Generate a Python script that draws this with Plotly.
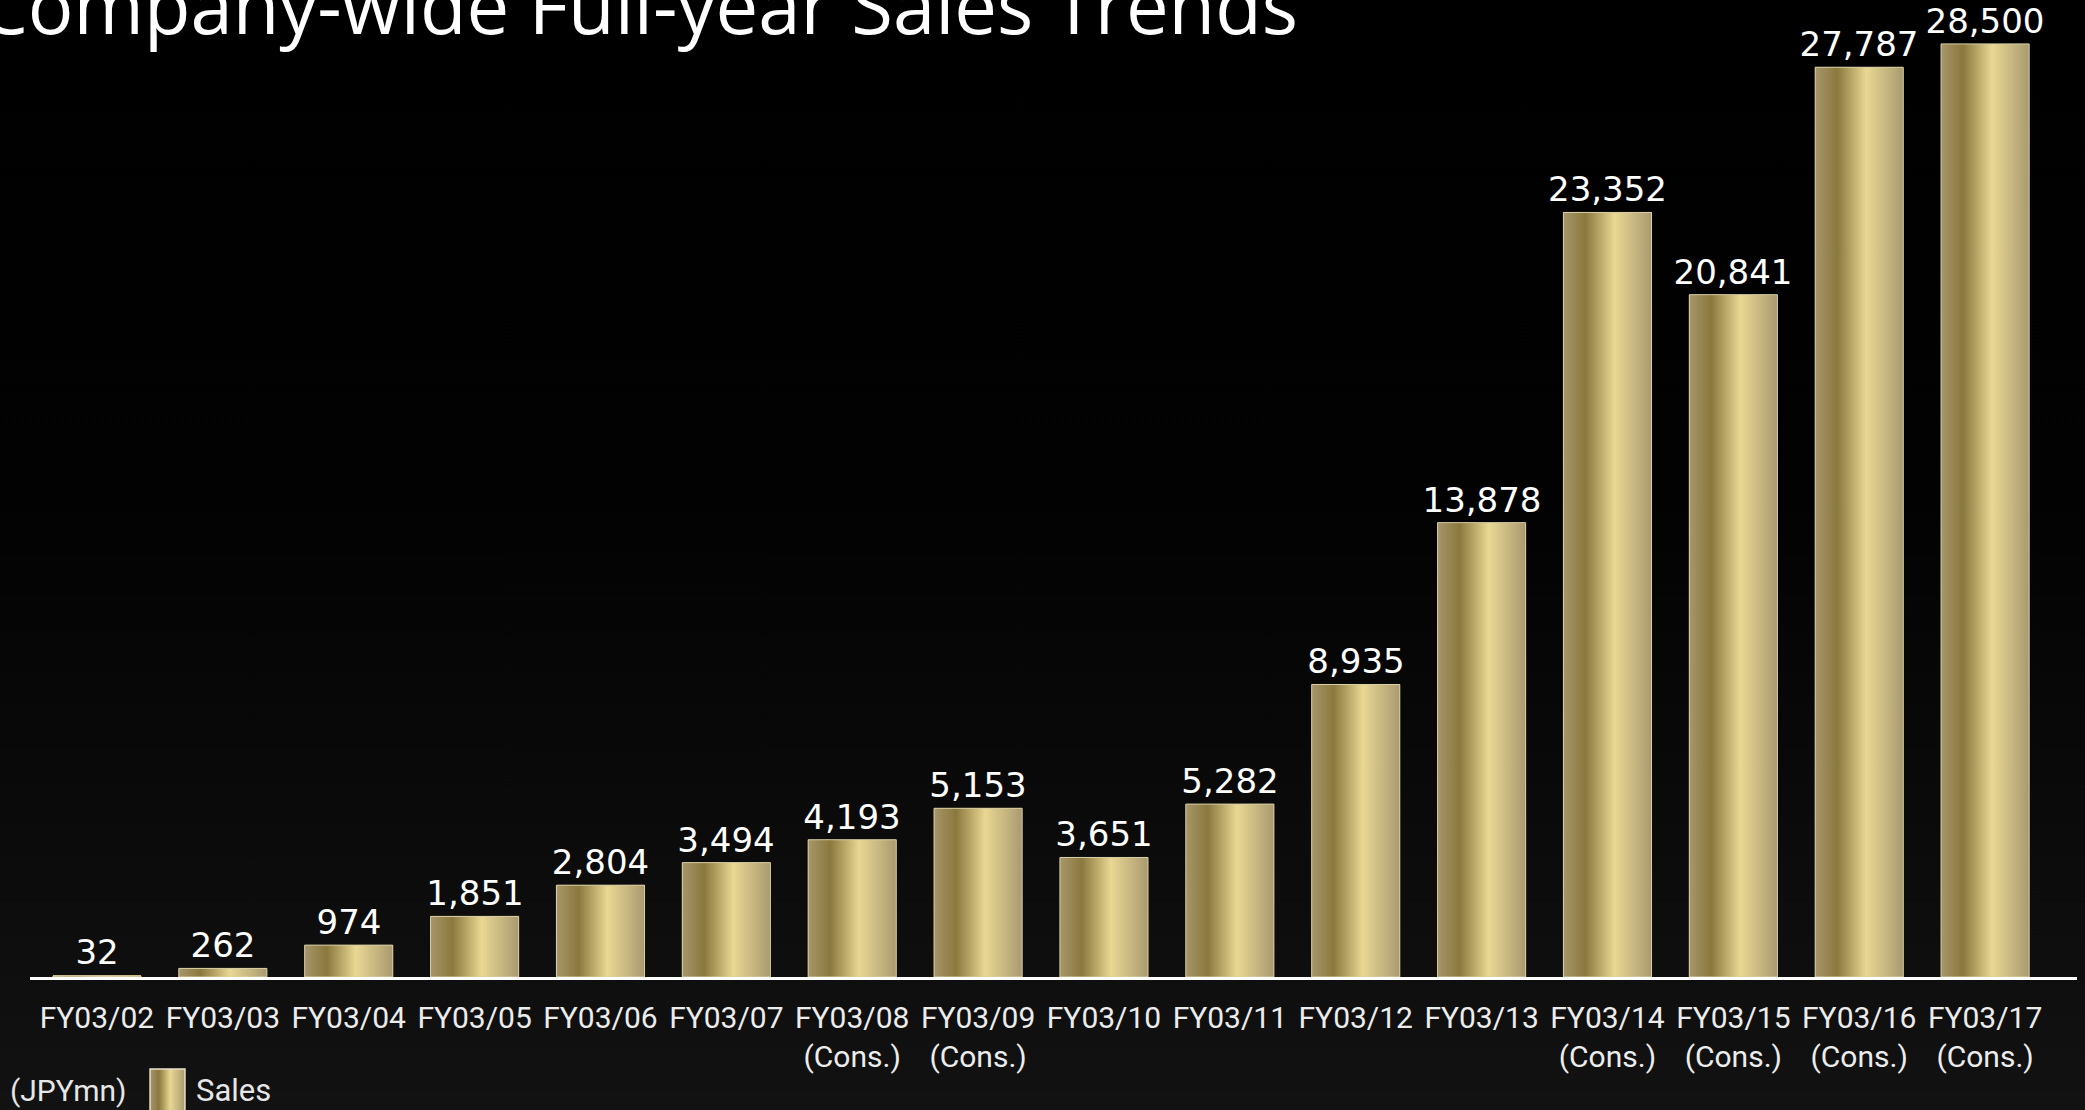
import plotly.graph_objects as go

# ---- data -------------------------------------------------------------
fiscal_years = ["FY03/02", "FY03/03", "FY03/04", "FY03/05", "FY03/06", "FY03/07",
                "FY03/08", "FY03/09", "FY03/10", "FY03/11", "FY03/12", "FY03/13",
                "FY03/14", "FY03/15", "FY03/16", "FY03/17"]
basis_notes = ["", "", "", "", "", "", "(Cons.)", "(Cons.)", "", "", "", "",
               "(Cons.)", "(Cons.)", "(Cons.)", "(Cons.)"]
sales = [32, 262, 974, 1851, 2804, 3494, 4193, 5153, 3651, 5282, 8935,
         13878, 23352, 20841, 27787, 28500]

# ---- page geometry (pixels) --------------------------------------------
W, H = 2085, 1110
PLOT_L, PLOT_R = 30, 2077      # x-axis line extent
PLOT_T, PLOT_B = 20, 977       # top of plotting area, baseline
X_RANGE = [-0.532, 15.73]
Y_MAX = 29230
BAR_W = 0.70

GOLD_SCALE = [[0.0, "#a6966a"], [0.25, "#8a783e"], [0.58, "#e9d793"], [1.0, "#a99a70"]]
GOLD_EDGE = "#d8cea4"

tick_text = [fy + ("<br>" + note if note else "") for fy, note in zip(fiscal_years, basis_notes)]
xs = list(range(len(fiscal_years)))

fig = go.Figure()

# backdrop: black fading to dark grey towards the bottom
fig.add_trace(go.Scatter(
    x=[0, 1, 1, 0, 0], y=[0, 0, 1, 1, 0], mode="lines", fill="toself",
    line=dict(width=0), fillcolor="#050505",
    fillgradient=dict(type="vertical",
                      colorscale=[[0.0, "#121212"], [0.55, "#020202"], [1.0, "#000000"]]),
    hoverinfo="skip", showlegend=False, xaxis="x", yaxis="y"))

# sales bars (carry the value labels)
fig.add_trace(go.Bar(
    x=xs, y=sales, width=BAR_W, name="Sales",
    marker=dict(color="#bba972", line=dict(width=0)),
    texttemplate="%{y:,.0f}", textposition="outside", constraintext="none",
    cliponaxis=False,
    textfont=dict(family="DejaVu Sans", size=34, color="#ffffff"),
    showlegend=False, xaxis="x2", yaxis="y2"))

# metallic gradient face of every bar, built from the same values
for xi, v in zip(xs, sales):
    x0, x1 = xi - BAR_W / 2, xi + BAR_W / 2
    fig.add_trace(go.Scatter(
        x=[x0, x1, x1, x0, x0], y=[0, 0, v, v, 0], mode="lines", fill="toself",
        line=dict(color=GOLD_EDGE, width=1), fillcolor="#bba972",
        fillgradient=dict(type="horizontal", colorscale=GOLD_SCALE),
        hoverinfo="skip", showlegend=False, xaxis="x2", yaxis="y2"))

# legend key swatch
fig.add_trace(go.Scatter(
    x=[0, 1, 1, 0, 0], y=[0, 0, 1, 1, 0], mode="lines", fill="toself",
    line=dict(color="#e8e2c8", width=1.5), fillcolor="#bba972",
    fillgradient=dict(type="horizontal", colorscale=GOLD_SCALE),
    hoverinfo="skip", showlegend=False, xaxis="x3", yaxis="y3"))

hidden = dict(visible=False, fixedrange=True)
fig.update_layout(
    width=W, height=H,
    margin=dict(l=0, r=0, t=0, b=0, pad=0),
    paper_bgcolor="#000000", plot_bgcolor="rgba(0,0,0,0)",
    showlegend=False,
    xaxis=dict(domain=[0, 1], range=[0, 1], **hidden),
    yaxis=dict(domain=[0, 1], range=[0, 1], **hidden),
    xaxis2=dict(domain=[PLOT_L / W, PLOT_R / W], range=X_RANGE, anchor="y2",
                tickvals=xs, ticktext=tick_text, ticks="", ticklabelstandoff=12,
                showgrid=False, zeroline=False, showline=True,
                linecolor="#ffffff", linewidth=3, fixedrange=True,
                tickfont=dict(family="Roboto", size=30, color="#ececec")),
    yaxis2=dict(domain=[1 - PLOT_B / H, 1 - PLOT_T / H], range=[0, Y_MAX],
                anchor="x2", **hidden),
    xaxis3=dict(domain=[149 / W, 186 / W], range=[-0.03, 1.03], anchor="y3", **hidden),
    yaxis3=dict(domain=[0, 1 - 1068 / H], range=[0.2, 1.02], anchor="x3", **hidden),
    bargap=0,
)

fig.add_annotation(
    text="Company-wide Full-year Sales Trends", xref="paper", yref="paper",
    x=-22 / W, y=1 - 58 / H, xanchor="left", yanchor="bottom", showarrow=False,
    font=dict(family="Open Sans", size=76, color="#ffffff"))
fig.add_annotation(
    text="(JPYmn)", xref="paper", yref="paper", x=8 / W, y=1 - 1090 / H,
    xanchor="left", yanchor="middle", showarrow=False,
    font=dict(family="Roboto", size=30, color="#e6e6e6"))
fig.add_annotation(
    text="Sales", xref="paper", yref="paper", x=194 / W, y=1 - 1090 / H,
    xanchor="left", yanchor="middle", showarrow=False,
    font=dict(family="Roboto", size=31, color="#e6e6e6"))

fig.write_html("out.html")
